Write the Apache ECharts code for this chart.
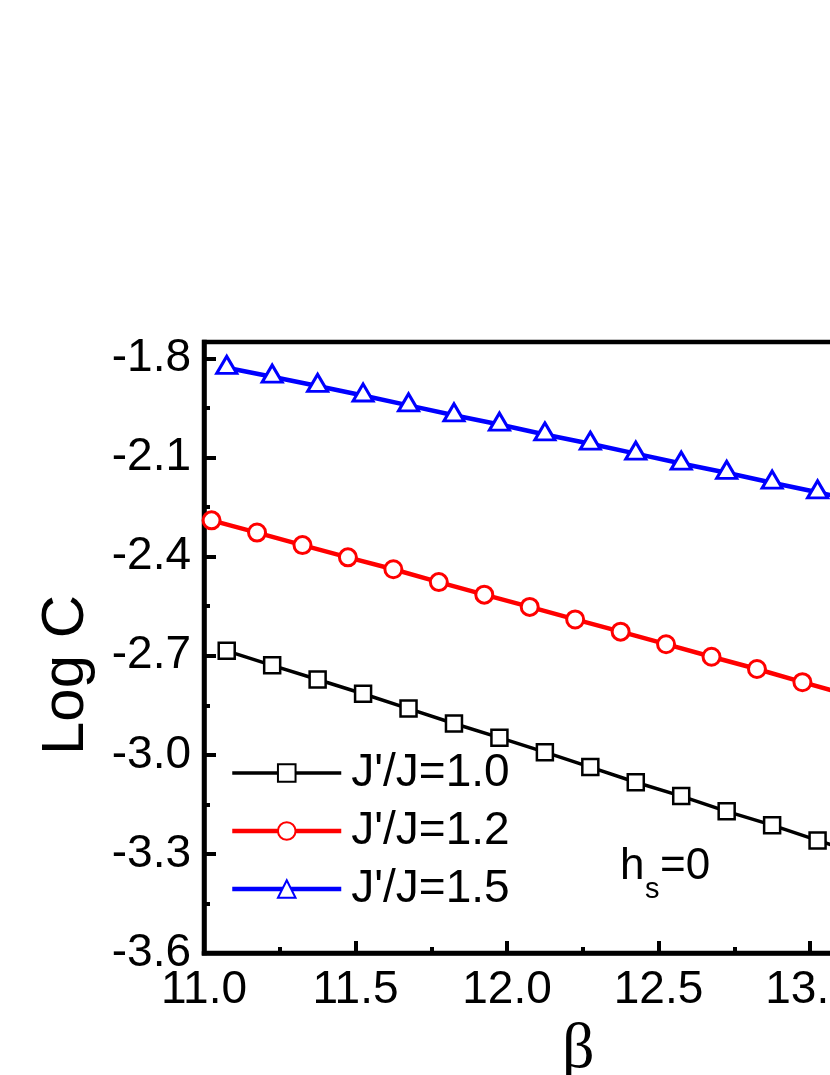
<!DOCTYPE html>
<html>
<head>
<meta charset="utf-8">
<script src="https://cdn.jsdelivr.net/npm/echarts@6/dist/echarts.min.js"></script>
<style>
  html, body { margin: 0; padding: 0; background: #fff; }
  #chart { width: 830px; height: 1075px; }
</style>
</head>
<body>
<div id="chart"></div>
<script>
// beta values of the markers
const betaA = [11.075, 11.225, 11.375, 11.525, 11.675, 11.825, 11.975, 12.125, 12.275, 12.425, 12.575, 12.725, 12.875, 13.025, 13.175]
const betaB = [11.025, 11.175, 11.325, 11.475, 11.625, 11.775, 11.925, 12.075, 12.225, 12.375, 12.525, 12.675, 12.825, 12.975, 13.125]

// Log C for J'/J = 1.0, 1.2, 1.5
const logC10 = [-2.685, -2.729, -2.772, -2.815, -2.860, -2.905, -2.948, -2.992, -3.037, -3.083, -3.125, -3.171, -3.213, -3.259, -3.303]
const logC12 = [-2.290, -2.327, -2.365, -2.402, -2.438, -2.477, -2.515, -2.552, -2.590, -2.627, -2.665, -2.703, -2.740, -2.780, -2.818]
const logC15 = [-1.828, -1.855, -1.883, -1.912, -1.942, -1.972, -2.000, -2.030, -2.058, -2.088, -2.118, -2.146, -2.176, -2.205, -2.235]

const seriesNames = ["J'/J=1.0", "J'/J=1.2", "J'/J=1.5"]
const seriesColors = ['#000000', '#ff0000', '#0000ff']

// tick labels
const yTicks = [-3.6, -3.3, -3.0, -2.7, -2.4, -2.1, -1.8]
const yMinorTicks = [-3.45, -3.15, -2.85, -2.55, -2.25, -1.95]

const FONT = '"Liberation Sans", Arial, sans-serif'

function pairs(xs, ys) {
  return xs.map((x, i) => [x, ys[i]])
}

const chart = echarts.init(document.getElementById('chart'))

const option = {
  backgroundColor: '#fff',
  animation: false,
  grid: {
    left: 204,
    top: 342,
    width: 757.5,
    height: 611,
    outerBoundsMode: 'none',
    containLabel: false,
    show: true,
    borderColor: '#000',
    borderWidth: 4.5
  },
  legend: {
    orient: 'vertical',
    left: 230,
    top: 750,
    padding: 0,
    itemWidth: 109,
    itemHeight: 22,
    itemGap: 12,
    data: seriesNames.map((n, i) => ({
      name: n,
      lineStyle: { width: i === 0 ? 3.5 : 4.5, color: seriesColors[i] }
    })),
    textStyle: {
      fontFamily: FONT,
      fontSize: 46,
      lineHeight: 46,
      color: '#000',
      padding: [0, 0, 0, 5]
    }
  },
  xAxis: {
    type: 'value',
    min: 11,
    max: 13.5,
    interval: 0.5,
    name: 'β',
    nameLocation: 'middle',
    nameGap: 51,
    nameTextStyle: {
      fontFamily: '"Liberation Serif", serif',
      fontSize: 64,
      color: '#000',
      padding: [0, 9, 0, 0]
    },
    axisLine: { lineStyle: { color: '#000', width: 4.5, cap: 'square' } },
    axisTick: { inside: true, length: 12, lineStyle: { color: '#000', width: 4 } },
    minorTick: { show: true, splitNumber: 2, length: 6, lineStyle: { color: '#000', width: 4 } },
    axisLabel: {
      margin: 14,
      fontFamily: FONT,
      fontSize: 46,
      color: '#000',
      formatter: v => v.toFixed(1)
    },
    splitLine: { show: false }
  },
  yAxis: [
    {
      type: 'value',
      min: -3.6,
      max: -1.75,
      axisLine: { show: true, lineStyle: { color: '#000', width: 4.5, cap: 'square' } },
      axisTick: { inside: true, length: 12, customValues: yTicks, lineStyle: { color: '#000', width: 4 } },
      axisLabel: {
        customValues: yTicks,
        margin: 13,
        fontFamily: FONT,
        fontSize: 46,
        color: '#000',
        formatter: v => v.toFixed(1)
      },
      splitLine: { show: false }
    },
    {
      // minor ticks only
      type: 'value',
      position: 'left',
      min: -3.6,
      max: -1.75,
      axisLine: { show: false },
      axisTick: { inside: true, length: 6, customValues: yMinorTicks, lineStyle: { color: '#000', width: 4 } },
      axisLabel: { show: false },
      splitLine: { show: false }
    }
  ],
  series: [
    {
      name: seriesNames[0],
      type: 'line',
      data: pairs(betaA, logC10),
      symbol: 'rect',
      symbolSize: 16,
      lineStyle: { color: seriesColors[0], width: 3.5 },
      itemStyle: { color: '#fff', borderColor: seriesColors[0], borderWidth: 2.5 }
    },
    {
      name: seriesNames[1],
      type: 'line',
      data: pairs(betaB, logC12),
      symbol: 'circle',
      symbolSize: 17,
      lineStyle: { color: seriesColors[1], width: 4.5 },
      itemStyle: { color: '#fff', borderColor: seriesColors[1], borderWidth: 3 }
    },
    {
      name: seriesNames[2],
      type: 'line',
      data: pairs(betaA, logC15),
      symbol: 'triangle',
      symbolSize: [20, 17],
      symbolOffset: [0, -3],
      lineStyle: { color: seriesColors[2], width: 4.5 },
      itemStyle: { color: '#fff', borderColor: seriesColors[2], borderWidth: 3 }
    }
  ],
  graphic: [
    {
      type: 'text',
      x: 66,
      y: 675,
      rotation: Math.PI / 2,
      style: { text: 'Log C', fontFamily: FONT, fontSize: 60, fill: '#000', align: 'center', verticalAlign: 'middle' }
    },
    {
      type: 'text',
      x: 620,
      y: 867,
      style: { text: 'h', fontFamily: FONT, fontSize: 44, fill: '#000', align: 'left', verticalAlign: 'middle' }
    },
    {
      type: 'text',
      x: 645,
      y: 890,
      style: { text: 's', fontFamily: FONT, fontSize: 29, fill: '#000', align: 'left', verticalAlign: 'middle' }
    },
    {
      type: 'text',
      x: 660,
      y: 867,
      style: { text: '=0', fontFamily: FONT, fontSize: 44, fill: '#000', align: 'left', verticalAlign: 'middle' }
    }
  ]
}

chart.setOption(option)
</script>
</body>
</html>
